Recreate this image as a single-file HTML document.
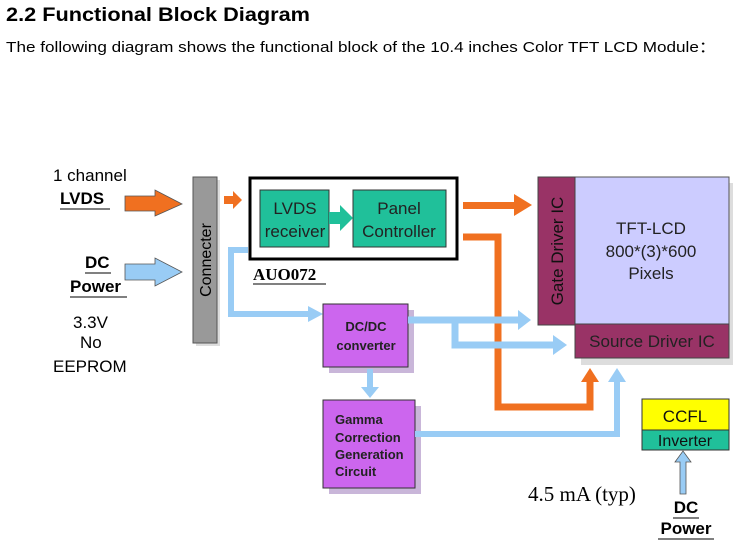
<!DOCTYPE html>
<html><head><style>
body{margin:0;background:#fff;width:752px;height:555px;overflow:hidden;font-family:"Liberation Sans",sans-serif}
</style></head><body>
<svg width="752" height="555" viewBox="0 0 752 555" xmlns="http://www.w3.org/2000/svg" font-family="Liberation Sans, sans-serif">
<text x="6" y="21" font-size="19" font-weight="bold" fill="#000" textLength="304" lengthAdjust="spacingAndGlyphs">2.2 Functional Block Diagram</text>
<text x="6" y="52" font-size="15" fill="#000" textLength="710" lengthAdjust="spacingAndGlyphs">The following diagram shows the functional block of the 10.4 inches Color TFT LCD Module：</text>

<g font-size="17" fill="#000">
<text x="53" y="181">1 channel</text>
<text x="60" y="204" font-weight="bold">LVDS</text>
<line x1="60" y1="209" x2="110" y2="209" stroke="#000"/>
<text x="85" y="268" font-weight="bold">DC</text>
<line x1="85" y1="273" x2="111" y2="273" stroke="#000"/>
<text x="70" y="292" font-weight="bold">Power</text>
<line x1="70" y1="297" x2="127" y2="297" stroke="#000"/>
<text x="73" y="328">3.3V</text>
<text x="80" y="348">No</text>
<text x="53" y="372">EEPROM</text>
</g>

<polygon points="125,196 155,196 155,190 182,204 155,216 155,211 125,211" fill="#f07020" stroke="#555" stroke-width="0.8"/>
<polygon points="125,264 155,264 155,258 182,272 155,286 155,280 125,280" fill="#99ccf5" stroke="#555" stroke-width="0.8"/>

<rect x="196" y="180" width="24" height="166" fill="#ddd"/>
<rect x="193" y="177" width="24" height="166" fill="#999" stroke="#555"/>
<text transform="translate(211,260) rotate(-90)" font-size="16" text-anchor="middle" fill="#000">Connecter</text>

<polygon points="224,196 233,196 233,191 242,200 233,209 233,204 224,204" fill="#f07020"/>

<path d="M248,250 H231 V314 H310" fill="none" stroke="#99ccf5" stroke-width="6"/>
<polygon points="308,306 323,314 308,322" fill="#99ccf5"/>

<rect x="250" y="178" width="207" height="81" fill="#fff" stroke="#000" stroke-width="3"/>
<rect x="260" y="190" width="69" height="57" fill="#20c09a" stroke="#333"/>
<rect x="353" y="190" width="93" height="57" fill="#20c09a" stroke="#333"/>
<polygon points="329,212 340,212 340,205 353,218 340,231 340,224 329,224" fill="#20c09a"/>
<g font-size="17" fill="#222" text-anchor="middle">
<text x="295" y="214">LVDS</text>
<text x="295" y="237">receiver</text>
<text x="399" y="214">Panel</text>
<text x="399" y="237">Controller</text>
</g>
<text x="253" y="280" font-family="Liberation Serif, serif" font-size="17" font-weight="bold">AUO072</text>
<line x1="253" y1="284" x2="326" y2="284" stroke="#000"/>

<rect x="463" y="202" width="55" height="7" fill="#f07020"/>
<polygon points="514,194 532,205 514,216" fill="#f07020"/>
<path d="M463,237 H498 V407 H590 V380" fill="none" stroke="#f07020" stroke-width="7"/>
<polygon points="581,382 590,368 599,382" fill="#f07020"/>

<rect x="329" y="310" width="85" height="63" fill="#c9b6d9"/>
<rect x="323" y="304" width="85" height="63" fill="#cc66ee" stroke="#333"/>
<g font-size="13" font-weight="bold" fill="#222" text-anchor="middle">
<text x="366" y="331">DC/DC</text>
<text x="366" y="350">converter</text>
</g>
<path d="M408,320 H520" fill="none" stroke="#99ccf5" stroke-width="7"/>
<polygon points="518,310 531,320 518,330" fill="#99ccf5"/>
<path d="M455,320 V345 H555" fill="none" stroke="#99ccf5" stroke-width="7"/>
<polygon points="553,335 567,345 553,355" fill="#99ccf5"/>
<rect x="367" y="369" width="6" height="20" fill="#99ccf5"/>
<polygon points="361,387 379,387 370,398" fill="#99ccf5"/>

<rect x="329" y="406" width="92" height="88" fill="#c9b6d9"/>
<rect x="323" y="400" width="92" height="88" fill="#cc66ee" stroke="#333"/>
<g font-size="13" font-weight="bold" fill="#222">
<text x="335" y="424">Gamma</text>
<text x="335" y="442">Correction</text>
<text x="335" y="459">Generation</text>
<text x="335" y="476">Circuit</text>
</g>
<path d="M415,434 H617 V380" fill="none" stroke="#99ccf5" stroke-width="6"/>
<polygon points="608,382 617,368 626,382" fill="#99ccf5"/>

<rect x="581" y="183" width="152" height="182" fill="#ddd"/>
<rect x="575" y="177" width="154" height="148" fill="#ccccff" stroke="#555"/>
<rect x="538" y="177" width="37" height="148" fill="#993366" stroke="#444"/>
<rect x="575" y="324" width="154" height="34" fill="#993366" stroke="#444"/>
<text transform="translate(563,251) rotate(-90)" font-size="17" fill="#111" text-anchor="middle">Gate Driver IC</text>
<g font-size="17" fill="#222" text-anchor="middle">
<text x="651" y="234">TFT-LCD</text>
<text x="651" y="257">800*(3)*600</text>
<text x="651" y="279">Pixels</text>
<text x="652" y="347">Source Driver IC</text>
</g>

<rect x="642" y="399" width="87" height="31" fill="#ffff00" stroke="#333"/>
<rect x="642" y="430" width="87" height="20" fill="#20c09a" stroke="#333"/>
<text x="685" y="422" font-size="17" text-anchor="middle" fill="#111">CCFL</text>
<text x="685" y="446" font-size="16" text-anchor="middle" fill="#111">Inverter</text>
<polygon points="680,494 680,462 675,462 683,451 691,462 686,462 686,494" fill="#99ccf5" stroke="#555" stroke-width="0.8"/>

<text x="528" y="501" font-family="Liberation Serif, serif" font-size="21" fill="#000">4.5 mA (typ)</text>
<text x="686" y="513" font-size="17" font-weight="bold" text-anchor="middle">DC</text>
<line x1="673" y1="518" x2="699" y2="518" stroke="#000"/>
<text x="686" y="534" font-size="17" font-weight="bold" text-anchor="middle">Power</text>
<line x1="658" y1="539" x2="714" y2="539" stroke="#000"/>
</svg>
</body></html>
